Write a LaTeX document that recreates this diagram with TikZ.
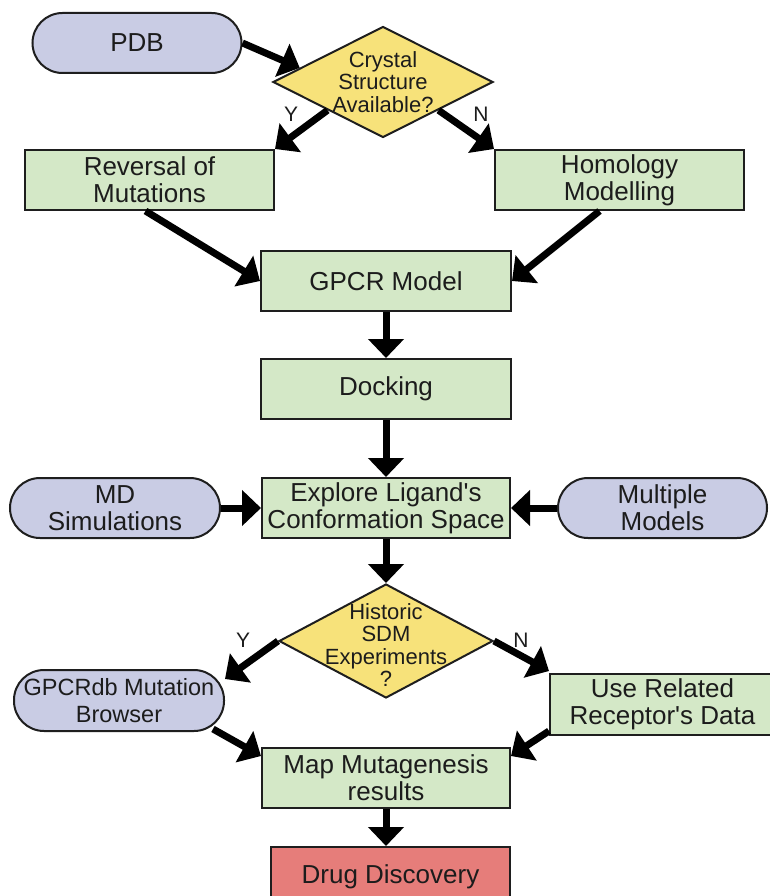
\documentclass[tikz,border=0pt]{standalone}
\usepackage{fontspec}
\setmainfont{Liberation Sans}[Ligatures=TeXOff]
\usetikzlibrary{shapes.geometric,arrows.meta,calc}

\definecolor{pillfill}{RGB}{201,204,228}
\definecolor{boxfill}{RGB}{212,232,199}
\definecolor{askfill}{RGB}{247,226,122}
\definecolor{endfill}{RGB}{230,125,122}
\definecolor{outl}{RGB}{30,30,30}
\definecolor{ink}{RGB}{28,28,28}

\tikzset{
  stepbox/.style={draw=outl, line width=2pt, fill=boxfill, rectangle,
    minimum height=60pt, inner sep=0pt, align=center, text=ink,
    font=\fontsize{26}{27}\selectfont},
  pill/.style={stepbox, fill=pillfill, rounded corners=30pt},
  endbox/.style={stepbox, fill=endfill},
  ask/.style={draw=outl, line width=2pt, fill=askfill, diamond,
    inner sep=0pt},
  asktext/.style={align=center, text=ink, inner sep=0pt,
    font=\fontsize{22}{22.5}\selectfont},
  yn/.style={text=ink, inner sep=0pt, font=\fontsize{21}{21}\selectfont},
  flow/.style={draw=black, line width=7pt,
    -{Triangle[length=19pt,width=35pt]}}
}

\begin{document}
\begin{tikzpicture}[x=1pt,y=-1pt]
\clip (0,0) rectangle (770,896);
\fill[white] (0,0) rectangle (770,896);

% upper part: structure source
\node[pill, minimum width=209pt] (pdb) at (137,43) {PDB};
\node[ask, minimum width=220pt, minimum height=111pt] (d1) at (383,82) {};
\node[asktext] (d1t) at (383,82) {Crystal\\Structure\\Available?};
\node[stepbox, minimum width=249pt] (rev) at (149.5,180) {Reversal of\\Mutations};
\node[stepbox, minimum width=249pt] (hom) at (619.5,180) {Homology\\Modelling};
\node[stepbox, minimum width=250pt] (gpcr) at (386,281) {GPCR Model};
\node[stepbox, minimum width=250pt] (dock) at (386,389) {Docking};

% ligand exploration
\node[stepbox, minimum width=248pt] (expl) at (386,508) {Explore Ligand's\\Conformation Space};
\node[pill, minimum width=210pt] (md) at (115,508) {MD\\Simulations};
\node[pill, minimum width=209pt] (mult) at (662.5,508) {Multiple\\Models};

% mutagenesis data
\node[ask, minimum width=214pt, minimum height=114pt] (d2) at (386,641) {};
\node[asktext] (d2t) at (386,645) {Historic\\SDM\\Experiments\\?};
\node[pill, minimum width=210pt, minimum height=61pt,
  font=\fontsize{23.5}{27}\selectfont] (gdb) at (119,700.5) {GPCRdb Mutation\\Browser};
\node[stepbox, minimum width=225pt, minimum height=61pt] (ur) at (662.5,704.5) {Use Related\\Receptor's Data};
\node[stepbox, minimum width=248pt] (map) at (386,778) {Map Mutagenesis\\results};
\node[endbox, minimum width=239pt] (drug) at (390.5,877) {Drug Discovery};

% branch labels
\node[yn] (y1) at (291,114) {Y};
\node[yn] (n1) at (481,114) {N};
\node[yn] (y2) at (243,640) {Y};
\node[yn] (n2) at (521,640) {N};

% connectors
\draw[flow] (pdb.east) -- ($(d1.west)!0.25!(d1.north)$);
\draw[flow] ($(d1.west)!0.5!(d1.south)$) -- (rev.north east);
\draw[flow] ($(d1.east)!0.5!(d1.south)$) -- (hom.north west);
\draw[flow] ($(rev.south)+(-4,0)$) -- (gpcr.west);
\draw[flow] ($(hom.south)+(-20,0)$) -- (gpcr.east);
\draw[flow] (gpcr.south) -- (dock.north);
\draw[flow] (dock.south) -- (expl.north);
\draw[flow] (md.east) -- (expl.west);
\draw[flow] (mult.west) -- (expl.east);
\draw[flow] (expl.south) -- (d2.north);
\draw[flow] (d2.west) -- ($(gdb.north east)+(0,10)$);
\draw[flow] (d2.east) -- ($(ur.north west)+(0,-2)$);
\draw[flow] ($(gdb.south east)+(-12,-3)$) -- ($(map.north west)+(0,9)$);
\draw[flow] ($(ur.south west)+(0,-5)$) -- ($(map.north east)+(0,9)$);
\draw[flow] (map.south) -- (map.south |- drug.north);
\end{tikzpicture}
\end{document}
